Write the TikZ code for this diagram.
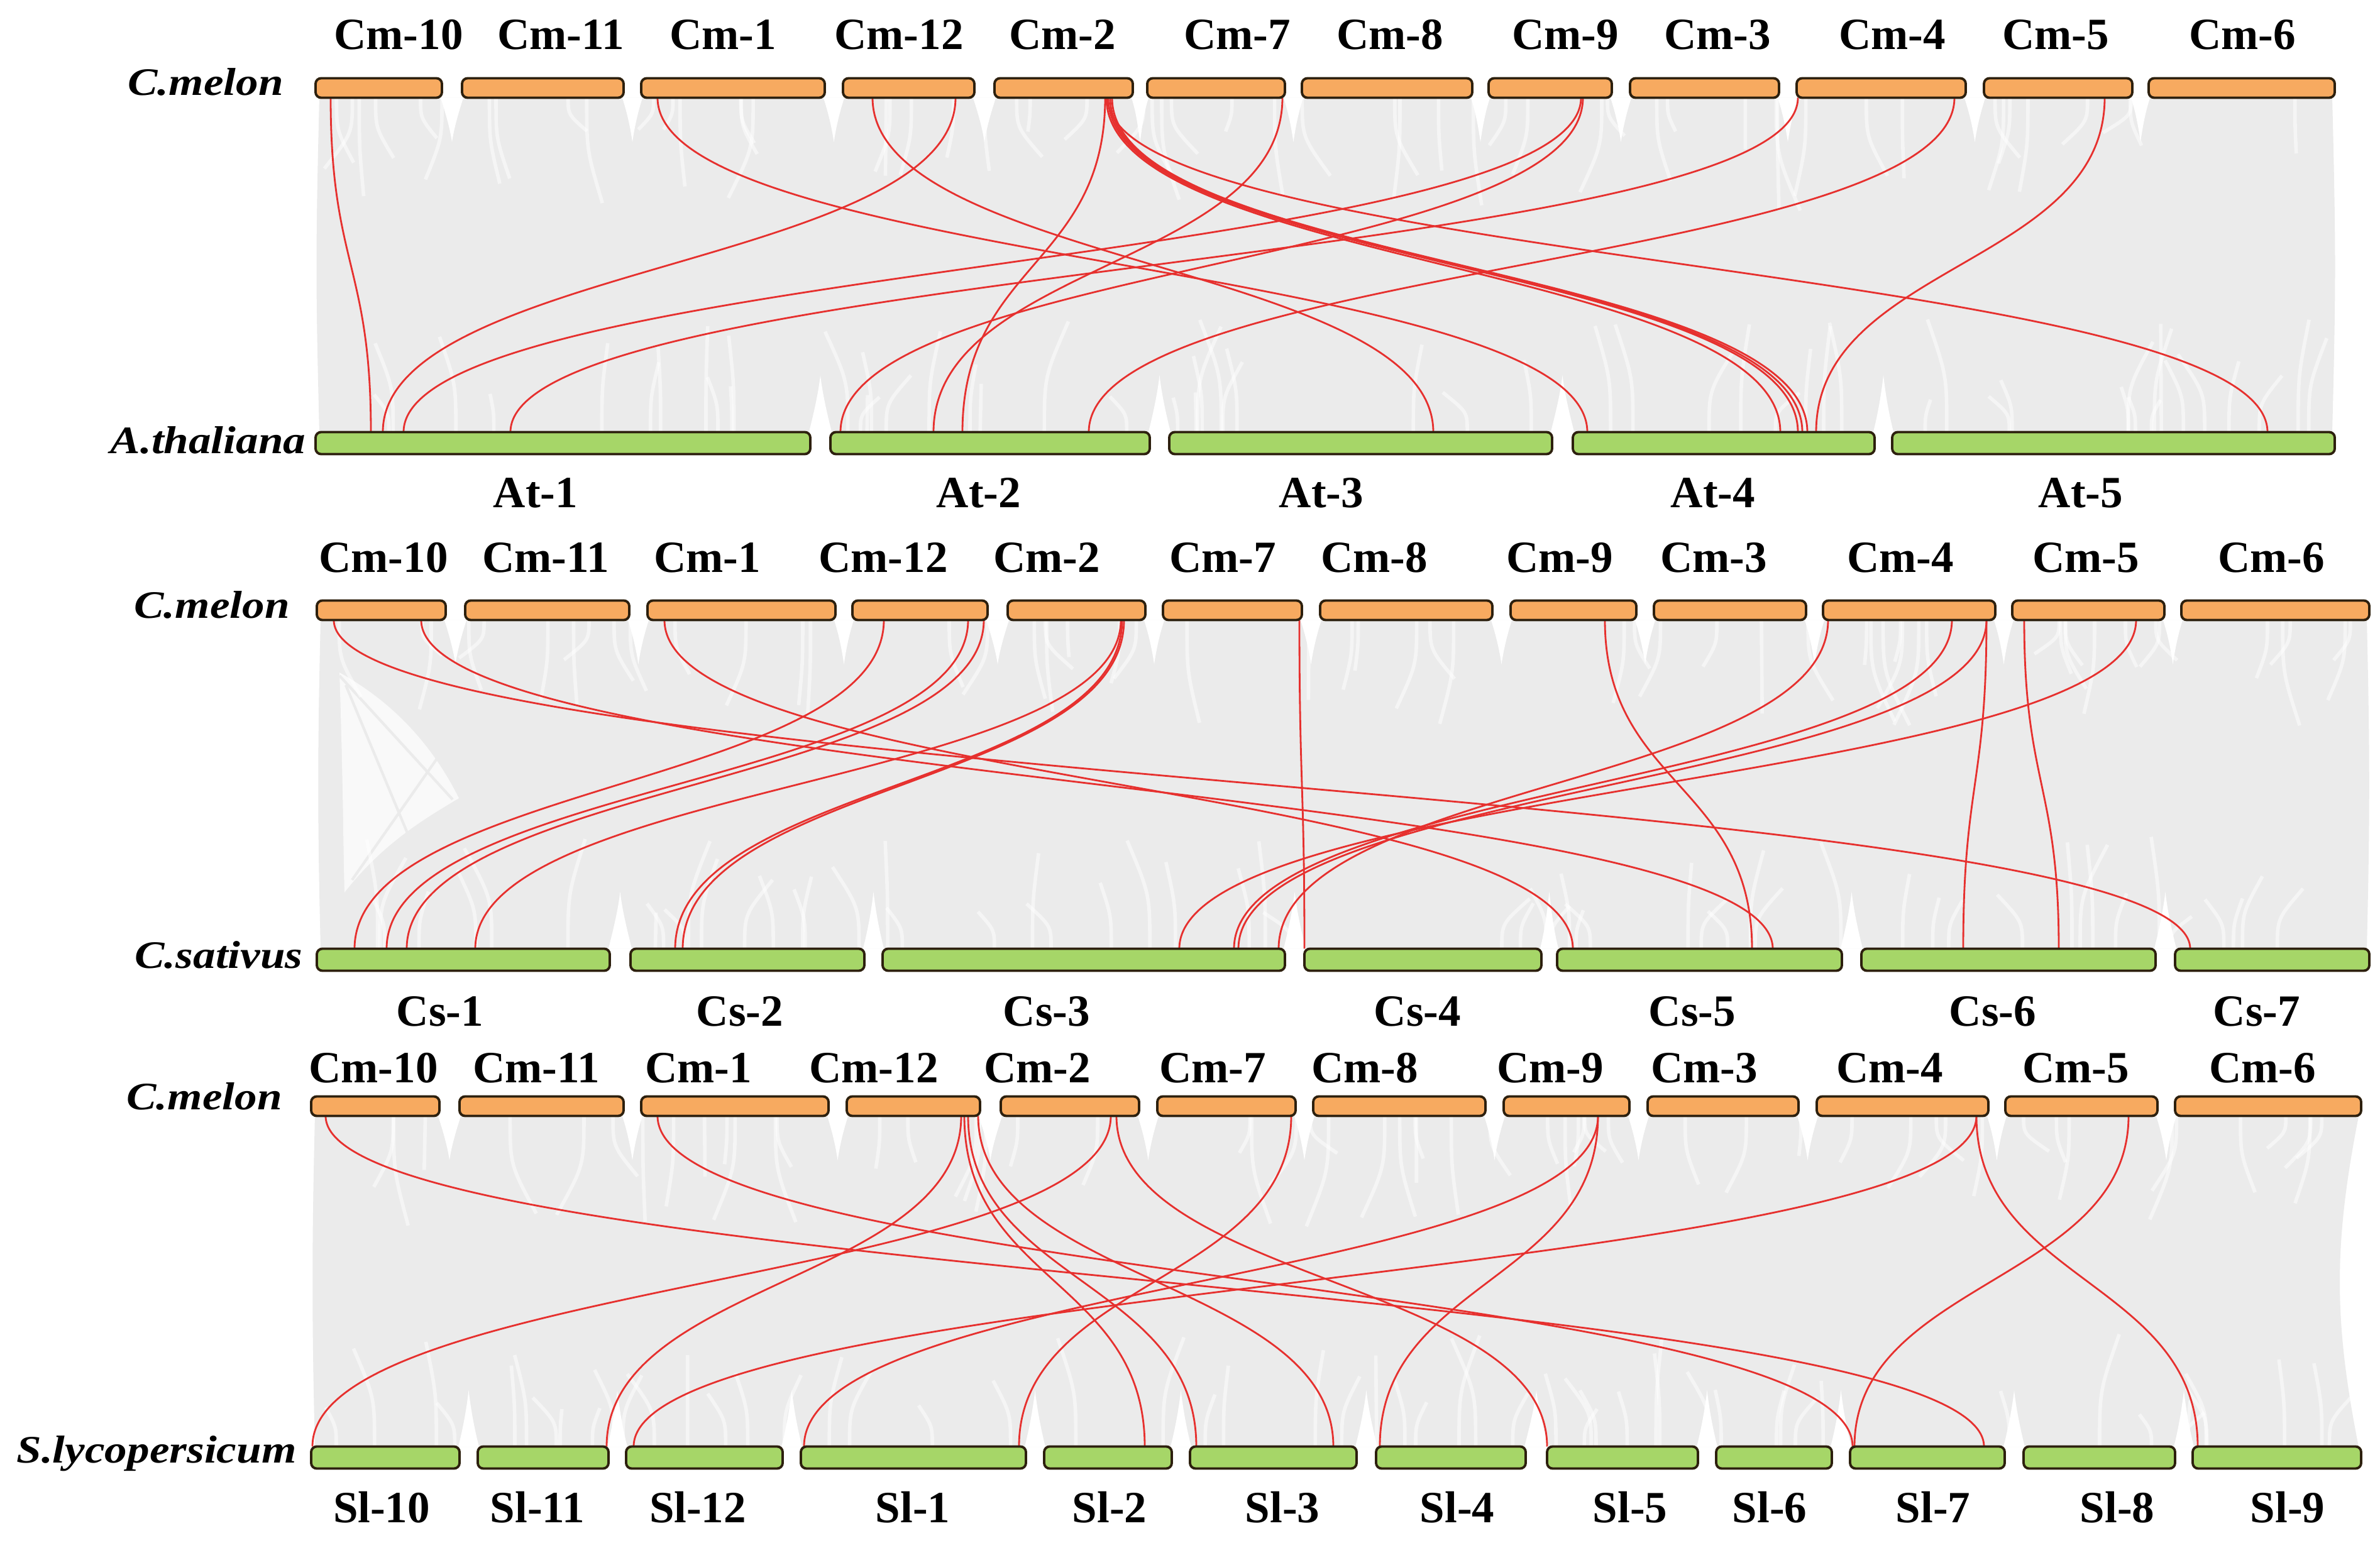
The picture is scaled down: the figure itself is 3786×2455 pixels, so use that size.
\documentclass[tikz,border=0pt]{standalone}
\usepackage{fontspec}
\setmainfont{Liberation Serif}
\newfontfamily\spfont[FakeStretch=1.15]{Liberation Serif}
\usetikzlibrary{calc}
\definecolor{orb}{RGB}{247,170,96}
\definecolor{grb}{RGB}{166,214,104}
\definecolor{lk}{RGB}{230,48,46}
\definecolor{bgc}{RGB}{235,235,235}
\definecolor{edgec}{RGB}{45,32,14}
\pgfdeclarelayer{back}
\pgfdeclarelayer{mid}
\pgfsetlayers{back,mid,main}
\tikzset{
 ob/.style={draw=edgec, fill=orb, line width=1.1pt, rounded corners=2.5pt, minimum height=0.31cm, inner sep=0pt, outer sep=0pt},
 gb/.style={draw=edgec, fill=grb, line width=1.1pt, rounded corners=2.5pt, minimum height=0.35cm, inner sep=0pt, outer sep=0pt},
 lbl/.style={font=\fontsize{20.2}{24}\selectfont\bfseries, anchor=base, inner sep=0pt},
 sp/.style={font=\fontsize{17.6}{22}\selectfont\spfont\bfseries\itshape, anchor=base, inner sep=0pt},
 redlk/.style={draw=lk, line width=0.8pt},
 streak/.style={draw=white, opacity=0.5, line width=1.6pt},
}
\newcommand\mkbar[5]{%
 \pgfmathsetmacro\bw{(#4-#3)*0.01}%
 \node[#1, minimum width=\bw cm] (#2) at ({(#3+#4)/2},#5) {};}
\newcommand\lnk[5]{\draw[redlk] (#2,0 |- #1.south) .. controls +(0,#5) and +(0,-#5) .. (#4,0 |- #3.north);}
\newcommand\tnotch[4]{%
 \pgfmathsetmacro\nm{(#1+#2)/2}%
 \pgfmathsetmacro\ya{#3+0.35*(#4)}%
 \pgfmathsetmacro\yb{#3+0.7*(#4)}%
 \pgfmathsetmacro\yc{#3+(#4)}%
 \fill[white] ({#1-2},#3) .. controls ({#1+6},\ya) and ({\nm-3},\yb) .. (\nm,\yc) .. controls ({\nm+3},\yb) and ({#2-6},\ya) .. ({#2+2},#3) -- cycle;}
\newcommand\streaks[5]{%
 \foreach \k in {1,...,#5}{%
  \pgfmathsetmacro\sx{#1+rnd*(#2-#1)}%
  \pgfmathsetmacro\sl{(50+rnd*130)*(#4)}%
  \pgfmathsetmacro\sd{(rnd-0.5)*90}%
  \pgfmathsetmacro\sy{#3+0.5*\sl}%
  \pgfmathsetmacro\sz{#3+\sl}%
  \pgfmathsetmacro\sw{\sx+\sd}%
  \draw[streak] (\sx,#3) .. controls (\sx,\sy) .. (\sw,\sz);}}
\begin{document}
\begin{tikzpicture}[x=0.01cm,y=-0.01cm]
\useasboundingbox (0,0) rectangle (3786,2455);
% ---------- bars panel 1
\mkbar{ob}{p1c10}{502}{703}{140}
\mkbar{ob}{p1c11}{735}{992}{140}
\mkbar{ob}{p1c1}{1020}{1312}{140}
\mkbar{ob}{p1c12}{1341}{1550}{140}
\mkbar{ob}{p1c2}{1582}{1802}{140}
\mkbar{ob}{p1c7}{1825}{2044}{140}
\mkbar{ob}{p1c8}{2071}{2342}{140}
\mkbar{ob}{p1c9}{2368}{2564}{140}
\mkbar{ob}{p1c3}{2593}{2830}{140}
\mkbar{ob}{p1c4}{2858}{3127}{140}
\mkbar{ob}{p1c5}{3156}{3392}{140}
\mkbar{ob}{p1c6}{3418}{3714}{140}
\mkbar{gb}{p1a1}{502}{1289}{705}
\mkbar{gb}{p1a2}{1321}{1829}{705}
\mkbar{gb}{p1a3}{1860}{2469}{705}
\mkbar{gb}{p1a4}{2502}{2982}{705}
\mkbar{gb}{p1a5}{3010}{3714}{705}
% ---------- bars panel 2
\mkbar{ob}{p2c10}{504}{709}{971}
\mkbar{ob}{p2c11}{740}{1001}{971}
\mkbar{ob}{p2c1}{1030}{1329}{971}
\mkbar{ob}{p2c12}{1356}{1571}{971}
\mkbar{ob}{p2c2}{1603}{1822}{971}
\mkbar{ob}{p2c7}{1850}{2071}{971}
\mkbar{ob}{p2c8}{2100}{2374}{971}
\mkbar{ob}{p2c9}{2403}{2603}{971}
\mkbar{ob}{p2c3}{2631}{2873}{971}
\mkbar{ob}{p2c4}{2900}{3174}{971}
\mkbar{ob}{p2c5}{3201}{3443}{971}
\mkbar{ob}{p2c6}{3470}{3769}{971}
\mkbar{gb}{p2s1}{504}{970}{1527}
\mkbar{gb}{p2s2}{1003}{1375}{1527}
\mkbar{gb}{p2s3}{1404}{2044}{1527}
\mkbar{gb}{p2s4}{2075}{2452}{1527}
\mkbar{gb}{p2s5}{2477}{2930}{1527}
\mkbar{gb}{p2s6}{2961}{3429}{1527}
\mkbar{gb}{p2s7}{3460}{3769}{1527}
% ---------- bars panel 3
\mkbar{ob}{p3c10}{495}{699}{1760}
\mkbar{ob}{p3c11}{731}{992}{1760}
\mkbar{ob}{p3c1}{1020}{1318}{1760}
\mkbar{ob}{p3c12}{1347}{1559}{1760}
\mkbar{ob}{p3c2}{1592}{1812}{1760}
\mkbar{ob}{p3c7}{1841}{2061}{1760}
\mkbar{ob}{p3c8}{2089}{2363}{1760}
\mkbar{ob}{p3c9}{2392}{2592}{1760}
\mkbar{ob}{p3c3}{2621}{2861}{1760}
\mkbar{ob}{p3c4}{2890}{3163}{1760}
\mkbar{ob}{p3c5}{3190}{3432}{1760}
\mkbar{ob}{p3c6}{3460}{3756}{1760}
\mkbar{gb}{p3s10}{495}{731}{2319}
\mkbar{gb}{p3s11}{760}{968}{2319}
\mkbar{gb}{p3s12}{996}{1245}{2319}
\mkbar{gb}{p3s1}{1274}{1632}{2319}
\mkbar{gb}{p3s2}{1661}{1864}{2319}
\mkbar{gb}{p3s3}{1893}{2158}{2319}
\mkbar{gb}{p3s4}{2189}{2427}{2319}
\mkbar{gb}{p3s5}{2461}{2701}{2319}
\mkbar{gb}{p3s6}{2730}{2914}{2319}
\mkbar{gb}{p3s7}{2943}{3189}{2319}
\mkbar{gb}{p3s8}{3219}{3460}{2319}
\mkbar{gb}{p3s9}{3488}{3756}{2319}
% ---------- grey background masses
\begin{pgfonlayer}{back}
\fill[white] (0,0) rectangle (3786,2455);
\fill[bgc] (508,156) -- (3710,156) .. controls (3716,400) and (3716,450) .. (3710,687) -- (508,687) .. controls (502,450) and (502,400) .. (508,156) -- cycle;
\fill[bgc] (510,987) -- (3765,987) .. controls (3770,1200) and (3770,1300) .. (3765,1509) -- (510,1509) .. controls (505,1300) and (505,1200) .. (510,987) -- cycle;
\fill[bgc] (501,1776) -- (3752,1776) .. controls (3712,1980) and (3712,2100) .. (3752,2302) -- (501,2302) .. controls (496,2100) and (496,1980) .. (501,1776) -- cycle;
\fill[white!70!bgc] (540,1070) .. controls (546,1250) and (546,1350) .. (548,1420) .. controls (610,1340) and (680,1300) .. (730,1270) .. controls (690,1190) and (630,1120) .. (540,1070) -- cycle;
\draw[bgc, line width=1.2pt] (540,1075) -- (720,1272) (550,1090) -- (650,1330) (700,1200) -- (560,1400);
\pgfmathsetseed{4242}
\streaks{520}{3690}{156}{1}{55}
\streaks{520}{3690}{687}{-1}{55}
\streaks{520}{3745}{987}{1}{55}
\streaks{520}{3745}{1509}{-1}{55}
\streaks{515}{3735}{1776}{1}{55}
\streaks{515}{3735}{2302}{-1}{55}
\foreach \a/\b in {703/735,992/1020,1312/1341,1550/1582,1802/1825,2044/2071,2342/2368,2564/2593,2830/2858,3127/3156,3392/3418}
  {\tnotch{\a}{\b}{156}{70}}
\foreach \a/\b in {1289/1321,1829/1860,2469/2502,2982/3010}
  {\tnotch{\a}{\b}{687}{-90}}
\foreach \a/\b in {709/740,1001/1030,1329/1356,1571/1603,1822/1850,2071/2100,2374/2403,2603/2631,2873/2900,3174/3201,3443/3470}
  {\tnotch{\a}{\b}{987}{70}}
\foreach \a/\b in {970/1003,1375/1404,2044/2075,2452/2477,2930/2961,3429/3460}
  {\tnotch{\a}{\b}{1509}{-90}}
\foreach \a/\b in {699/731,992/1020,1318/1347,1559/1592,1812/1841,2061/2089,2363/2392,2592/2621,2861/2890,3163/3190,3432/3460}
  {\tnotch{\a}{\b}{1776}{70}}
\foreach \a/\b in {731/760,968/996,1245/1274,1632/1661,1864/1893,2158/2189,2427/2461,2701/2730,2914/2943,3189/3219,3460/3488}
  {\tnotch{\a}{\b}{2302}{-90}}
\end{pgfonlayer}
% ---------- red links
\begin{pgfonlayer}{mid}
\lnk{p1c10}{526}{p1a1}{590}{266}
\lnk{p1c1}{1046}{p1a4}{2525}{266}
\lnk{p1c12}{1388}{p1a3}{2280}{266}
\lnk{p1c12}{1520}{p1a1}{609}{266}
\lnk{p1c2}{1758}{p1a2}{1531}{266}
\lnk{p1c2}{1762}{p1a5}{3607}{266}
\lnk{p1c2}{1760}{p1a4}{2832}{266}
\lnk{p1c2}{1763}{p1a4}{2860}{266}
\lnk{p1c2}{1766}{p1a4}{2867}{266}
\lnk{p1c2}{1769}{p1a4}{2875}{266}
\lnk{p1c7}{2040}{p1a2}{1485}{266}
\lnk{p1c9}{2515}{p1a1}{642}{266}
\lnk{p1c9}{2518}{p1a2}{1337}{266}
\lnk{p1c4}{2860}{p1a1}{812}{266}
\lnk{p1c4}{3109}{p1a2}{1732}{266}
\lnk{p1c5}{3348}{p1a4}{2889}{266}
%
\lnk{p2c10}{531}{p2s7}{3484}{262}
\lnk{p2c10}{670}{p2s5}{2820}{262}
\lnk{p2c1}{1057}{p2s5}{2502}{262}
\lnk{p2c12}{1406}{p2s1}{564}{262}
\lnk{p2c12}{1540}{p2s1}{615}{262}
\lnk{p2c12}{1565}{p2s1}{647}{262}
\lnk{p2c2}{1783}{p2s1}{756}{262}
\lnk{p2c2}{1785}{p2s2}{1074}{262}
\lnk{p2c2}{1788}{p2s2}{1086}{262}
\lnk{p2c7}{2067}{p2s4}{2075}{262}
\lnk{p2c9}{2553}{p2s5}{2787}{262}
\lnk{p2c4}{2908}{p2s3}{2034}{262}
\lnk{p2c4}{3105}{p2s3}{1963}{262}
\lnk{p2c4}{3160}{p2s3}{1970}{262}
\lnk{p2c4}{3160}{p2s6}{3123}{262}
\lnk{p2c5}{3220}{p2s6}{3275}{262}
\lnk{p2c5}{3398}{p2s3}{1876}{262}
%
\lnk{p3c10}{518}{p3s7}{3156}{263}
\lnk{p3c1}{1046}{p3s7}{2947}{263}
\lnk{p3c12}{1529}{p3s11}{965}{263}
\lnk{p3c12}{1534}{p3s2}{1821}{263}
\lnk{p3c12}{1540}{p3s3}{1903}{263}
\lnk{p3c12}{1556}{p3s3}{2121}{263}
\lnk{p3c2}{1767}{p3s10}{497}{263}
\lnk{p3c2}{1776}{p3s5}{2461}{263}
\lnk{p3c7}{2054}{p3s1}{1621}{263}
\lnk{p3c9}{2542}{p3s4}{2195}{263}
\lnk{p3c9}{2542}{p3s1}{1279}{263}
\lnk{p3c4}{3144}{p3s12}{1008}{263}
\lnk{p3c4}{3144}{p3s9}{3496}{263}
\lnk{p3c5}{3386}{p3s7}{2950}{263}
\end{pgfonlayer}
% ---------- labels
\foreach \x/\t [count=\i] in {634/Cm-10,892/Cm-11,1150/Cm-1,1430/Cm-12,1690/Cm-2,1968/Cm-7,2211/Cm-8,2490/Cm-9,2732/Cm-3,3010/Cm-4,3270/Cm-5,3567/Cm-6}
  {\node[lbl] (l1t\i) at (\x,79) {\t};}
\foreach \x/\t [count=\i] in {852/At-1,1557/At-2,2102/At-3,2725/At-4,3310/At-5}
  {\node[lbl] (l1b\i) at (\x,808) {\t};}
\foreach \x/\t [count=\i] in {610/Cm-10,868/Cm-11,1125/Cm-1,1405/Cm-12,1665/Cm-2,1945/Cm-7,2186/Cm-8,2481/Cm-9,2726/Cm-3,3023/Cm-4,3318/Cm-5,3613/Cm-6}
  {\node[lbl] (l2t\i) at (\x,911) {\t};}
\foreach \x/\t [count=\i] in {700/Cs-1,1177/Cs-2,1665/Cs-3,2255/Cs-4,2692/Cs-5,3170/Cs-6,3590/Cs-7}
  {\node[lbl] (l2b\i) at (\x,1632) {\t};}
\foreach \x/\t [count=\i] in {594/Cm-10,853/Cm-11,1111/Cm-1,1390/Cm-12,1650/Cm-2,1929/Cm-7,2171/Cm-8,2466/Cm-9,2711/Cm-3,3006/Cm-4,3302/Cm-5,3599/Cm-6}
  {\node[lbl] (l3t\i) at (\x,1722) {\t};}
\foreach \x/\t [count=\i] in {607/Sl-10,855/Sl-11,1110/Sl-12,1452/Sl-1,1765/Sl-2,2040/Sl-3,2318/Sl-4,2593/Sl-5,2815/Sl-6,3075/Sl-7,3368/Sl-8,3639/Sl-9}
  {\node[lbl] (l3b\i) at (\x,2422) {\t};}
\node[sp] (sp1a) at (327,152) {C.melon};
\node[sp] (sp1b) at (331,722) {A.thaliana};
\node[sp] (sp2a) at (337,984) {C.melon};
\node[sp] (sp2b) at (348,1540) {C.sativus};
\node[sp] (sp3a) at (325,1765) {C.melon};
\node[sp] (sp3b) at (249,2327) {S.lycopersicum};
\end{tikzpicture}
\end{document}
